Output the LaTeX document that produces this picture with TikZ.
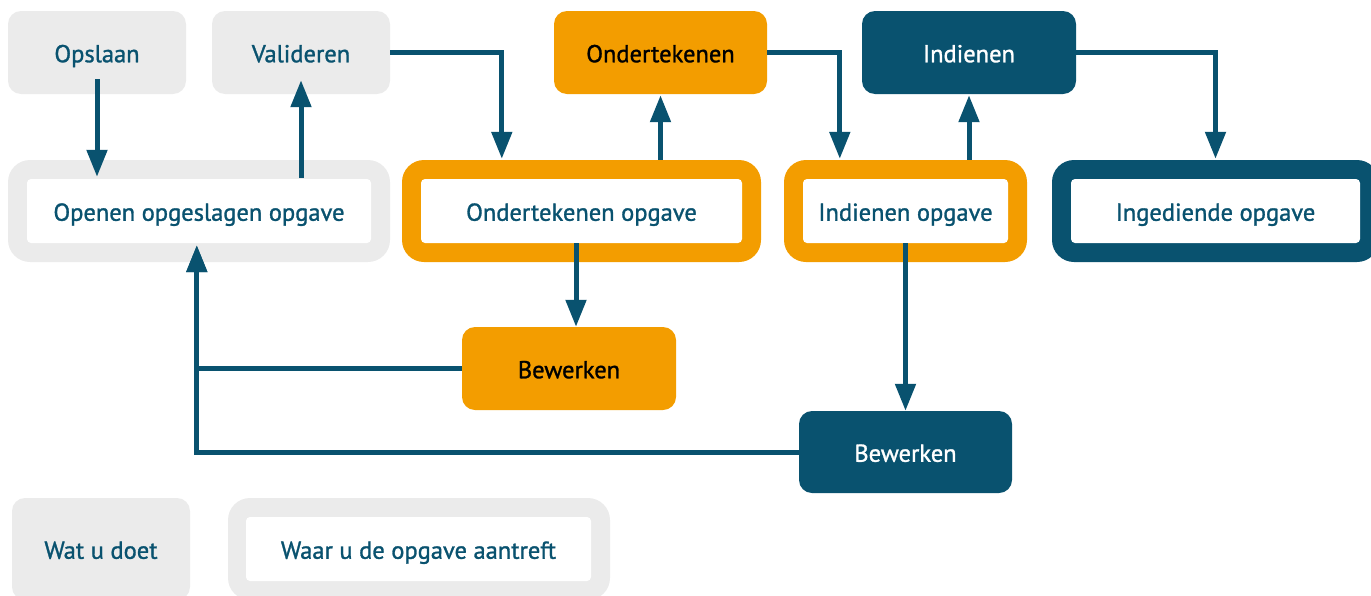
\documentclass[tikz,border=0pt]{standalone}
\usepackage{fontspec}
\setmainfont{PT Sans}[FakeBold=1.2]
\usetikzlibrary{arrows.meta,calc}
\definecolor{cTeal}{RGB}{9,82,111}
\definecolor{cOrange}{RGB}{243,157,0}
\definecolor{cGrey}{RGB}{235,235,235}
\tikzset{
  lbl/.style={font=\fontsize{24.5}{28}\selectfont, text height=19.5pt, text depth=0pt},
  box/.style={rectangle, rounded corners=13pt, inner sep=0pt, minimum height=83pt, lbl},
  greybox/.style={box, fill=cGrey, text=cTeal},
  orangebox/.style={box, fill=cOrange, text=black},
  darkbox/.style={box, fill=cTeal, text=white},
  framebox/.style={rectangle, rounded corners=22pt, inner sep=0pt, minimum height=102pt},
  innerbox/.style={rectangle, rounded corners=4pt, fill=white, inner sep=0pt, minimum height=64pt, text=cTeal, lbl},
  conn/.style={draw=cTeal, line width=5pt, -{Triangle[length=27pt,width=20pt]}}
}
\begin{document}
\begin{tikzpicture}[x=1pt,y=-1pt]
\useasboundingbox (0,0) rectangle (1371,595);
\clip (0,0) rectangle (1371,595);
% top row: actions
\node[greybox, minimum width=178pt] (opslaan) at (97,52.5) {Opslaan};
\node[greybox, minimum width=178pt] (valideren) at (301,52.5) {Valideren};
\node[orangebox, minimum width=213pt] (onderteken) at (660.5,52.5) {Ondertekenen};
\node[darkbox, minimum width=214pt] (indienen) at (969,52.5) {Indienen};
% second row: locations
\node[framebox, fill=cGrey, minimum width=382pt] (openen) at (199,211) {};
\node[innerbox, minimum width=344pt] (openenI) at (199,211) {Openen opgeslagen opgave};
\node[framebox, fill=cOrange, minimum width=359pt] (ondopg) at (581.5,211) {};
\node[innerbox, minimum width=321pt] (ondopgI) at (581.5,211) {Ondertekenen opgave};
\node[framebox, fill=cOrange, minimum width=243pt] (indopg) at (905.5,211) {};
\node[innerbox, minimum width=205pt] (indopgI) at (905.5,211) {Indienen opgave};
\node[framebox, fill=cTeal, minimum width=327pt] (ingopg) at (1215.5,211) {};
\node[innerbox, minimum width=289pt] (ingopgI) at (1215.5,211) {Ingediende opgave};
% edit actions
\node[orangebox, minimum width=214pt] (bew1) at (569,368.5) {Bewerken};
\node[darkbox, minimum width=213pt, minimum height=82pt] (bew2) at (905.5,452) {Bewerken};
% legend
\node[greybox, minimum width=178pt, minimum height=102pt] (legact) at (101,549) {Wat u doet};
\node[framebox, fill=cGrey, minimum width=382pt] (legloc) at (419,549) {};
\node[innerbox, minimum width=345pt] (leglocI) at (418.5,549) {Waar u de opgave aantreft};
% connectors
\coordinate (target) at ($(openenI.south west)+(170,2)$);
\draw[conn] ($(opslaan.south)+(0,-15)$) -- ($(opslaan.south |- openen.north)+(0,17)$);
\draw[conn] ($(valideren.south |- openen.north)+(0,18)$) -- ($(valideren.south)+(0,-14)$);
\draw[conn] (valideren.east) -| ($(ondopg.north west)+(100,-1)$);
\draw[conn] (onderteken.south |- ondopg.north) -- ($(onderteken.south)+(0,1)$);
\draw[conn] (onderteken.east) -| ($(indopg.north west)+(56,-1)$);
\draw[conn] (indienen.south |- indopg.north) -- ($(indienen.south)+(0,1)$);
\draw[conn] (indienen.east) -| ($(ingopg.north)+(0,-1)$);
\draw[conn] ($(ondopgI.south)+(-5.5,0)$) -- ($(bew1.north)+(7,0)$);
\draw[conn] (indopgI.south) -- (bew2.north);
\draw[conn] (bew1.west) -| (target);
\draw[conn] (bew2.west) -| (target);
\end{tikzpicture}
\end{document}
